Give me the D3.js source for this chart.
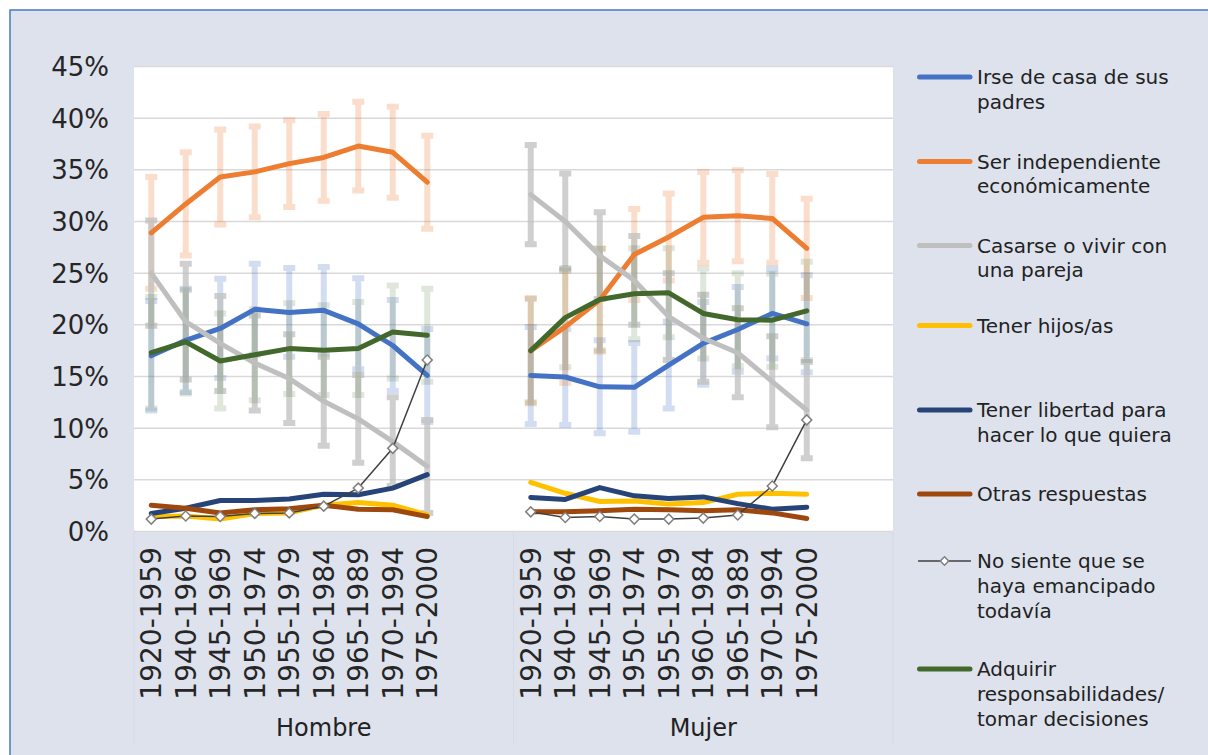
<!DOCTYPE html>
<html>
<head>
<meta charset="utf-8">
<script src="https://cdn.jsdelivr.net/npm/d3@7"></script>
<style>
  body { margin: 0; background: #fff; }
  text { font-family: "DejaVu Sans", sans-serif; fill: #222; }
</style>
</head>
<body>
<div id="chart"></div>
<script>
// categories
var groups = ["Hombre", "Mujer"];
var cohorts = ["1920-1959", "1940-1964", "1945-1969", "1950-1974", "1955-1979",
  "1960-1984", "1965-1989", "1970-1994", "1975-2000"];
var yTicks = [0, 5, 10, 15, 20, 25, 30, 35, 40, 45];

// series values (%), Hombre then Mujer
var irse = [[17.0, 18.5, 19.65, 21.5, 21.2, 21.4, 20.1, 18.0, 15.1],
            [15.1, 14.95, 14.0, 13.95, 16.1, 18.2, 19.55, 21.1, 20.1]];
var irseErr = [[5.3, 5.0, 4.8, 4.4, 4.3, 4.2, 4.4, 4.4, 4.5],
               [4.7, 4.65, 4.5, 4.3, 4.2, 4.0, 4.1, 4.35, 4.7]];
var independiente = [[28.9, 31.7, 34.3, 34.8, 35.6, 36.2, 37.3, 36.7, 33.8],
                     [17.5, 19.8, 22.4, 26.8, 28.5, 30.4, 30.55, 30.3, 27.4]];
var independienteErr = [[5.4, 5.0, 4.6, 4.4, 4.2, 4.2, 4.3, 4.4, 4.5],
                        [5.1, 5.4, 5.0, 4.4, 4.2, 4.4, 4.4, 4.3, 4.8]];
var casarse = [[25.0, 20.3, 18.2, 16.3, 14.8, 12.6, 10.9, 8.7, 6.3],
               [32.6, 30.0, 26.7, 24.3, 20.8, 18.7, 17.3, 14.5, 11.75]];
var casarseErr = [[5.1, 5.6, 4.6, 4.6, 4.3, 4.3, 4.25, 4.3, 4.5],
                  [4.8, 4.65, 4.2, 4.3, 4.2, 4.2, 4.3, 4.4, 4.65]];
var hijos = [[1.45, 1.5, 1.2, 1.75, 1.8, 2.55, 2.8, 2.55, 1.6],
             [4.75, 3.7, 2.9, 2.95, 2.65, 2.8, 3.6, 3.7, 3.6]];
var libertad = [[1.75, 2.25, 3.0, 3.0, 3.15, 3.6, 3.55, 4.2, 5.5],
                [3.3, 3.1, 4.25, 3.45, 3.2, 3.35, 2.7, 2.15, 2.35]];
var otras = [[2.55, 2.25, 1.8, 2.1, 2.2, 2.55, 2.15, 2.1, 1.45],
             [1.9, 1.9, 2.0, 2.15, 2.1, 2.0, 2.1, 1.8, 1.25]];
var noSiente = [[1.2, 1.5, 1.45, 1.75, 1.8, 2.45, 4.2, 8.05, 16.6],
                [1.9, 1.35, 1.45, 1.2, 1.2, 1.3, 1.6, 4.4, 10.8]];
var adquirir = [[17.3, 18.35, 16.5, 17.1, 17.7, 17.55, 17.7, 19.3, 19.0],
                [17.5, 20.7, 22.45, 23.0, 23.1, 21.1, 20.5, 20.45, 21.35]];
var adquirirErr = [[5.4, 5.0, 4.6, 4.4, 4.4, 4.35, 4.5, 4.5, 4.5],
                   [5.0, 4.8, 4.9, 4.4, 4.3, 4.35, 4.5, 4.5, 4.75]];

var series = [
  { name: ["Irse de casa de sus", "padres"], values: irse, err: irseErr, color: "#4472c4", errOp: 0.24 },
  { name: ["Ser independiente", "económicamente"], values: independiente, err: independienteErr, color: "#ed7d31", errOp: 0.25 },
  { name: ["Casarse o vivir con", "una pareja"], values: casarse, err: casarseErr, color: "#bfbfbf", errOp: 0.75 },
  { name: ["Tener hijos/as"], values: hijos, color: "#ffc000" },
  { name: ["Tener libertad para", "hacer lo que quiera"], values: libertad, color: "#264478" },
  { name: ["Otras respuestas"], values: otras, color: "#9e480e" },
  { name: ["No siente que se", "haya emancipado", "todavía"], values: noSiente, color: "#404040", marker: true },
  { name: ["Adquirir", "responsabilidades/", "tomar decisiones"], values: adquirir, err: adquirirErr, color: "#43682b", errOp: 0.17 }
];

var W = 1208, H = 755;
var plot = { left: 134, right: 893, top: 66.5, bottom: 531.5 };

var svg = d3.select("#chart").append("svg")
  .attr("width", W)
  .attr("height", H);

svg.append("rect")
  .attr("x", 10).attr("y", 10)
  .attr("width", W).attr("height", H)
  .style("fill", "#dee2ed")
  .style("stroke", "#4a78c6")
  .style("stroke-width", 1.5);

// 11 slots per group: 9 cohorts + 2 empty
var slots = [];
groups.forEach(g => {
  cohorts.forEach(c => slots.push(g + "|" + c));
  slots.push(g + "|_a", g + "|_b");
});

var x = d3.scaleBand().domain(slots).range([plot.left, plot.right]);
var y = d3.scaleLinear().domain([0, 45]).range([plot.bottom, plot.top]);
var cx = (g, c) => x(g + "|" + c) + x.bandwidth() / 2;

svg.append("rect")
  .attr("x", plot.left).attr("y", plot.top)
  .attr("width", plot.right - plot.left)
  .attr("height", plot.bottom - plot.top)
  .style("fill", "#fff");

// gridlines
svg.append("g")
  .selectAll("line")
  .data(yTicks)
  .join("line")
  .attr("x1", plot.left).attr("x2", plot.right)
  .attr("y1", d => y(d)).attr("y2", d => y(d))
  .style("stroke", "#d9d9d9")
  .style("stroke-width", 1.5);

// y axis labels
svg.append("g")
  .selectAll("text")
  .data(yTicks)
  .join("text")
  .attr("x", 109)
  .attr("y", d => y(d))
  .attr("dy", "0.36em")
  .attr("text-anchor", "end")
  .style("font-size", "26px")
  .style("fill", "#262626")
  .text(d => d + "%");

// category labels
groups.forEach(g => {
  svg.append("g")
    .selectAll("text")
    .data(cohorts)
    .join("text")
    .attr("transform", c => "translate(" + cx(g, c) + ",547) rotate(-90)")
    .attr("dy", "0.36em")
    .attr("text-anchor", "end")
    .style("font-size", "28px")
    .style("fill", "#262626")
    .text(c => c);
});

var groupStep = x.step() * 11;
svg.append("g")
  .selectAll("line")
  .data([0, 1, 2])
  .join("line")
  .attr("x1", i => plot.left + i * groupStep)
  .attr("x2", i => plot.left + i * groupStep)
  .attr("y1", plot.bottom)
  .attr("y2", 745)
  .style("stroke", "#d6dae4")
  .style("stroke-width", 1);

svg.append("g")
  .selectAll("text")
  .data(groups)
  .join("text")
  .attr("x", (g, i) => plot.left + (i + 0.5) * groupStep)
  .attr("y", 736)
  .attr("text-anchor", "middle")
  .style("font-size", "24px")
  .text(g => g);

// error bars (under every line)
var errLayer = svg.append("g");
series.filter(s => s.err).forEach(s => {
  groups.forEach((g, gi) => {
    var pts = cohorts.map((c, i) => ({ x: cx(g, c), v: s.values[gi][i], e: s.err[gi][i] }));
    errLayer.append("g")
      .selectAll("path")
      .data(pts)
      .join("path")
      .attr("d", p => {
        var t = y(p.v + p.e), b = y(p.v - p.e);
        return "M" + p.x + "," + t + "L" + p.x + "," + b +
          "M" + (p.x - 6) + "," + t + "L" + (p.x + 6) + "," + t +
          "M" + (p.x - 6) + "," + b + "L" + (p.x + 6) + "," + b;
      })
      .style("fill", "none")
      .style("stroke", s.color)
      .style("stroke-opacity", s.errOp)
      .style("stroke-width", 6);
  });
});

// lines
var line = d3.line().x(p => p.x).y(p => y(p.v));
series.forEach(s => {
  groups.forEach((g, gi) => {
    var pts = cohorts.map((c, i) => ({ x: cx(g, c), v: s.values[gi][i] }));
    svg.append("path")
      .datum(pts)
      .attr("d", line)
      .style("fill", "none")
      .style("stroke", s.color)
      .style("stroke-width", s.marker ? 1.5 : 5)
      .style("stroke-linejoin", "round")
      .style("stroke-linecap", "round");
    if (s.marker) {
      svg.append("g")
        .selectAll("path")
        .data(pts)
        .join("path")
        .attr("d", d3.symbol(d3.symbolSquare, 50))
        .attr("transform", p => "translate(" + p.x + "," + y(p.v) + ") rotate(45)")
        .style("fill", "#fff")
        .style("stroke", "#7f7f7f")
        .style("stroke-width", 1.5);
    }
  });
});

// legend
var legendY = [77, 161.5, 245.5, 325.5, 410, 494, 561, 669];
var legend = svg.append("g");
series.forEach((s, i) => {
  var ly = legendY[i];
  var item = legend.append("g");
  item.append("line")
    .attr("x1", s.marker ? 918 : 919.5).attr("x2", s.marker ? 971 : 970)
    .attr("y1", ly).attr("y2", ly)
    .style("stroke", s.color)
    .style("stroke-width", s.marker ? 1.5 : 5)
    .style("stroke-linecap", s.marker ? "butt" : "round");
  if (s.marker) {
    item.append("path")
      .attr("d", d3.symbol(d3.symbolSquare, 36))
      .attr("transform", "translate(944.5," + ly + ") rotate(45)")
      .style("fill", "#fff")
      .style("stroke", "#7f7f7f")
      .style("stroke-width", 1.5);
  }
  item.selectAll("text")
    .data(s.name)
    .join("text")
    .attr("x", 977)
    .attr("y", (t, j) => ly + j * 24.7)
    .attr("dy", "0.36em")
    .style("font-size", "20px")
    .text(t => t);
});
</script>
</body>
</html>
